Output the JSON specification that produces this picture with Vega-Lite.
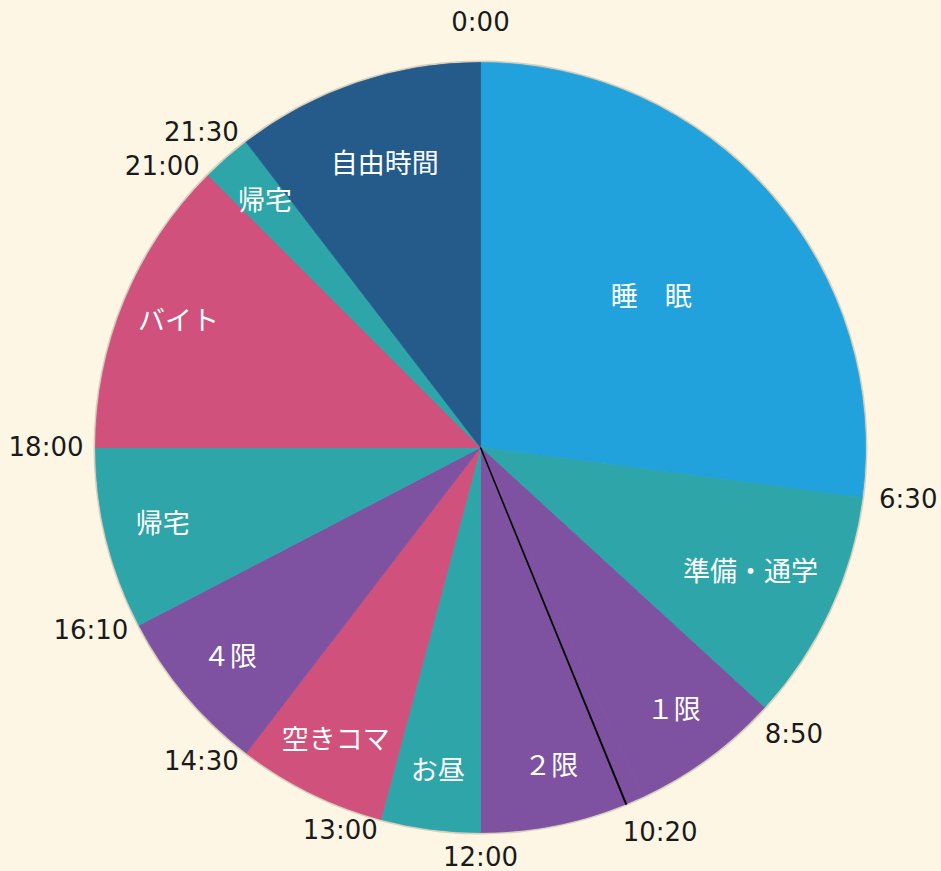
{
  "$schema": "https://vega.github.io/schema/vega-lite/v6.json",
  "width": 921,
  "height": 847,
  "autosize": {"type": "none"},
  "padding": {"left": 20, "top": 24, "right": 0, "bottom": 0},
  "background": "#fdf6e4",
  "view": {"stroke": null},
  "datasets": {
    "segments": [
      {"label": "睡　眠", "start": 0, "end": 390, "kind": "sleep"},
      {"label": "準備・通学", "start": 390, "end": 530, "kind": "move"},
      {"label": "１限", "start": 530, "end": 620, "kind": "class"},
      {"label": "２限", "start": 620, "end": 720, "kind": "class"},
      {"label": "お昼", "start": 720, "end": 780, "kind": "move"},
      {"label": "空きコマ", "start": 780, "end": 870, "kind": "other"},
      {"label": "４限", "start": 870, "end": 970, "kind": "class"},
      {"label": "帰宅", "start": 970, "end": 1080, "kind": "move"},
      {"label": "バイト", "start": 1080, "end": 1260, "kind": "other"},
      {"label": "帰宅", "start": 1260, "end": 1290, "kind": "move"},
      {"label": "自由時間", "start": 1290, "end": 1440, "kind": "free"}
    ],
    "times": [
      {"t": 0, "label": "0:00"},
      {"t": 390, "label": "6:30"},
      {"t": 530, "label": "8:50"},
      {"t": 620, "label": "10:20"},
      {"t": 720, "label": "12:00"},
      {"t": 780, "label": "13:00"},
      {"t": 870, "label": "14:30"},
      {"t": 970, "label": "16:10"},
      {"t": 1080, "label": "18:00"},
      {"t": 1260, "label": "21:00"},
      {"t": 1290, "label": "21:30"}
    ],
    "rim": [{"t": 0, "t2": 1440}],
    "divider": [{"t": 631, "t2": 631.3}]
  },
  "layer": [
    {
      "data": {"name": "rim"},
      "mark": {"type": "arc", "outerRadius": 387, "innerRadius": 383, "fill": "#d8d0bd"},
      "encoding": {
        "theta": {"field": "t", "type": "quantitative", "stack": null, "scale": {"domain": [0, 1440], "range": [0, 6.283185307]}},
        "theta2": {"field": "t2"}
      }
    },
    {
      "data": {"name": "segments"},
      "mark": {"type": "arc", "outerRadius": 385, "innerRadius": 0, "strokeWidth": 0.8},
      "encoding": {
        "theta": {"field": "start", "type": "quantitative", "stack": null},
        "theta2": {"field": "end"},
        "color": {"field": "kind", "type": "nominal", "legend": null,
          "scale": {"domain": ["sleep", "move", "class", "other", "free"], "range": ["#22a2dc", "#2ea5a9", "#7e52a0", "#d0517b", "#255b8b"]}},
        "stroke": {"field": "kind", "type": "nominal", "legend": null,
          "scale": {"domain": ["sleep", "move", "class", "other", "free"], "range": ["#22a2dc", "#2ea5a9", "#7e52a0", "#d0517b", "#255b8b"]}}
      }
    },
    {
      "data": {"name": "divider"},
      "mark": {"type": "arc", "outerRadius": 385, "innerRadius": 0, "fill": "black", "stroke": "black", "strokeWidth": 1.5},
      "encoding": {
        "theta": {"field": "t", "type": "quantitative", "stack": null},
        "theta2": {"field": "t2"}
      }
    },
    {
      "data": {"name": "segments"},
      "transform": [
        {"filter": "datum.end - datum.start > 300"},
        {"calculate": "(datum.start + datum.end) / 2", "as": "mid"}
      ],
      "mark": {"type": "text", "radius": 227, "font": "Noto Sans CJK JP", "fontSize": 27, "color": "white", "align": "center", "baseline": "middle"},
      "encoding": {
        "theta": {"field": "mid", "type": "quantitative", "stack": null},
        "text": {"field": "label"}
      }
    },
    {
      "data": {"name": "segments"},
      "transform": [
        {"filter": "datum.end - datum.start >= 135 && datum.end - datum.start <= 155"},
        {"calculate": "(datum.start + datum.end) / 2", "as": "mid"}
      ],
      "mark": {"type": "text", "radius": 298, "font": "Noto Sans CJK JP", "fontSize": 27, "color": "white", "align": "center", "baseline": "middle"},
      "encoding": {
        "theta": {"field": "mid", "type": "quantitative", "stack": null},
        "text": {"field": "label"}
      }
    },
    {
      "data": {"name": "segments"},
      "transform": [
        {"filter": "datum.end - datum.start < 135 || (datum.end - datum.start > 155 && datum.end - datum.start <= 300)"},
        {"calculate": "(datum.start + datum.end) / 2", "as": "mid"}
      ],
      "mark": {"type": "text", "radius": 327, "font": "Noto Sans CJK JP", "fontSize": 27, "color": "white", "align": "center", "baseline": "middle"},
      "encoding": {
        "theta": {"field": "mid", "type": "quantitative", "stack": null},
        "text": {"field": "label"}
      }
    },
    {
      "data": {"name": "times"},
      "transform": [{"filter": "datum.t > 0 && datum.t < 500"}],
      "mark": {"type": "text", "radius": 402, "font": "DejaVu Sans", "fontSize": 26, "color": "#1a1a1a", "align": "left", "baseline": "middle"},
      "encoding": {
        "theta": {"field": "t", "type": "quantitative", "stack": null},
        "text": {"field": "label"}
      }
    },
    {
      "data": {"name": "times"},
      "transform": [{"filter": "datum.t > 500 && datum.t < 720"}],
      "mark": {"type": "text", "radius": 425, "font": "DejaVu Sans", "fontSize": 26, "color": "#1a1a1a", "align": "center", "baseline": "middle"},
      "encoding": {
        "theta": {"field": "t", "type": "quantitative", "stack": null},
        "text": {"field": "label"}
      }
    },
    {
      "data": {"name": "times"},
      "transform": [{"filter": "datum.t > 720"}],
      "mark": {"type": "text", "radius": 397, "font": "DejaVu Sans", "fontSize": 26, "color": "#1a1a1a", "align": "right", "baseline": "middle"},
      "encoding": {
        "theta": {"field": "t", "type": "quantitative", "stack": null},
        "text": {"field": "label"}
      }
    },
    {
      "data": {"name": "times"},
      "transform": [{"filter": "datum.t == 0"}],
      "mark": {"type": "text", "radius": 425, "font": "DejaVu Sans", "fontSize": 26, "color": "#1a1a1a", "align": "center", "baseline": "middle"},
      "encoding": {
        "theta": {"field": "t", "type": "quantitative", "stack": null},
        "text": {"field": "label"}
      }
    },
    {
      "data": {"name": "times"},
      "transform": [{"filter": "datum.t == 720"}],
      "mark": {"type": "text", "radius": 410, "font": "DejaVu Sans", "fontSize": 26, "color": "#1a1a1a", "align": "center", "baseline": "middle"},
      "encoding": {
        "theta": {"field": "t", "type": "quantitative", "stack": null},
        "text": {"field": "label"}
      }
    }
  ]
}
